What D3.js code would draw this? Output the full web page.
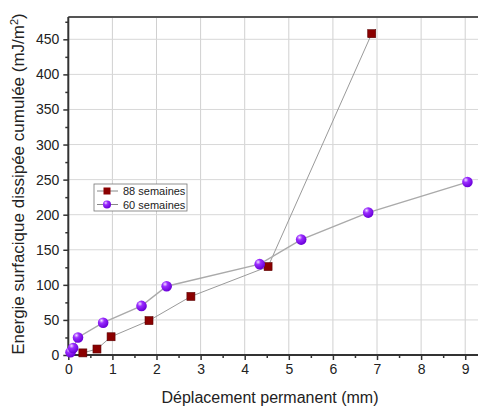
<!DOCTYPE html>
<html>
<head>
    <meta charset="utf-8">
    <title>Energie dissipée</title>
    <script src="https://d3js.org/d3.v7.min.js"></script>
    <style>
        body { margin: 0; background: #fff; }
        text { font-family: "Liberation Sans", Arial, sans-serif; fill: #222; }
    </style>
</head>
<body>
    <svg width="478" height="410"></svg>
    <script>
        // Data
        var seriesNames = ["88 semaines", "60 semaines"];
        var x88 = [0.33, 0.65, 0.97, 1.83, 2.78, 4.53, 6.88];
        var y88 = [3, 8.5, 26, 49, 83.5, 126, 458];
        var x60 = [0.05, 0.11, 0.22, 0.79, 1.66, 2.23, 4.34, 5.28, 6.8, 9.05];
        var y60 = [4, 10, 25, 46, 70, 98, 129.5, 164.5, 203, 246.5];
        var xTicks = [0, 1, 2, 3, 4, 5, 6, 7, 8, 9];
        var yTicks = [0, 50, 100, 150, 200, 250, 300, 350, 400, 450];

        var pLeft = 68.3, pRight = 478, pTop = 17, pBottom = 355;

        var x = d3.scaleLinear().domain([0, 9.29]).range([pLeft, pRight]);
        var y = d3.scaleLinear().domain([0, 481.8]).range([pBottom, pTop]);

        var svg = d3.select("svg");

        // sphere gradient for the purple markers
        var grad = svg.append("defs").append("radialGradient")
            .attr("id", "ball").attr("cx", "35%").attr("cy", "30%").attr("r", "70%");
        grad.append("stop").attr("offset", "0%").attr("stop-color", "#f2e0ff");
        grad.append("stop").attr("offset", "35%").attr("stop-color", "#9a2cff");
        grad.append("stop").attr("offset", "100%").attr("stop-color", "#6a00d8");

        // grid
        svg.append("g").selectAll("line").data(xTicks.slice(1)).enter().append("line")
            .attr("x1", function(d) { return x(d); }).attr("x2", function(d) { return x(d); })
            .attr("y1", pTop).attr("y2", pBottom)
            .attr("stroke", "#d0d0d0").attr("stroke-width", 1);
        svg.append("g").selectAll("line").data(yTicks.slice(1)).enter().append("line")
            .attr("x1", pLeft).attr("x2", pRight)
            .attr("y1", function(d) { return y(d); }).attr("y2", function(d) { return y(d); })
            .attr("stroke", "#d8d8d8").attr("stroke-width", 1);

        // top border
        svg.append("line").attr("x1", pLeft).attr("x2", pRight)
            .attr("y1", pTop).attr("y2", pTop)
            .attr("stroke", "#555").attr("stroke-width", 2);

        // axes
        var xAxis = svg.append("g")
            .attr("transform", "translate(0," + pBottom + ")")
            .call(d3.axisBottom(x).tickValues(xTicks).tickSize(5).tickPadding(4));
        svg.append("g")
            .attr("transform", "translate(0," + pBottom + ")")
            .call(d3.axisBottom(x).tickValues(d3.range(0.5, 9.3, 1)).tickSize(3).tickFormat(""))
            .select(".domain").remove();
        var yAxis = svg.append("g")
            .attr("transform", "translate(" + pLeft + ",0)")
            .call(d3.axisLeft(y).tickValues(yTicks).tickSize(5).tickPadding(4));
        svg.append("g")
            .attr("transform", "translate(" + pLeft + ",0)")
            .call(d3.axisLeft(y).tickValues(d3.range(25, 480, 50)).tickSize(3).tickFormat(""))
            .select(".domain").remove();

        svg.selectAll(".domain").attr("stroke", "#333").attr("stroke-width", 2);
        svg.selectAll(".tick line").attr("stroke", "#333").attr("stroke-width", 1.5);
        svg.selectAll(".tick text").style("font-size", "14px").attr("fill", "#222");
        xAxis.select(".domain").attr("d", "M" + pLeft + ",0H" + pRight);
        yAxis.select(".domain").attr("d", "M0," + pTop + "V" + pBottom);

        // lines
        var line = d3.line().x(function(d) { return x(d[0]); }).y(function(d) { return y(d[1]); });
        var d88 = d3.zip(x88, y88), d60 = d3.zip(x60, y60);
        svg.append("path").datum(d88).attr("d", line)
            .attr("fill", "none").attr("stroke", "#9a9a9a").attr("stroke-width", 1);
        svg.append("path").datum(d60).attr("d", line)
            .attr("fill", "none").attr("stroke", "#aaaaaa").attr("stroke-width", 1.4);

        // markers
        svg.append("g").selectAll("rect").data(d88).enter().append("rect")
            .attr("x", function(d) { return x(d[0]) - 4; })
            .attr("y", function(d) { return y(d[1]) - 4; })
            .attr("width", 8).attr("height", 8)
            .attr("fill", "#8b0000").attr("stroke", "#5a0000").attr("stroke-width", 0.6);
        svg.append("g").selectAll("circle").data(d60).enter().append("circle")
            .attr("cx", function(d) { return x(d[0]); })
            .attr("cy", function(d) { return y(d[1]); })
            .attr("r", 5.3).attr("fill", "url(#ball)");

        // legend
        var lg = svg.append("g");
        lg.append("rect").attr("x", 94).attr("y", 184).attr("width", 93).attr("height", 27)
            .attr("fill", "#fff").attr("stroke", "#777").attr("stroke-width", 0.8);
        seriesNames.forEach(function(name, i) {
            var ly = 191 + i * 13.5;
            lg.append("line").attr("x1", 97).attr("x2", 118).attr("y1", ly).attr("y2", ly)
                .attr("stroke", "#888").attr("stroke-width", 1);
            if (i === 0) {
                lg.append("rect").attr("x", 103.5).attr("y", ly - 3.5).attr("width", 7).attr("height", 7)
                    .attr("fill", "#8b0000");
            } else {
                lg.append("circle").attr("cx", 107).attr("cy", ly).attr("r", 4).attr("fill", "url(#ball)");
            }
            lg.append("text").attr("x", 123).attr("y", ly + 4)
                .style("font-size", "11px").text(name);
        });

        // titles
        svg.append("text").attr("x", 270).attr("y", 403).attr("text-anchor", "middle")
            .style("font-size", "16px").text("Déplacement permanent (mm)");
        var yt = svg.append("text")
            .attr("transform", "translate(24,184) rotate(-90)")
            .attr("text-anchor", "middle").style("font-size", "17px");
        yt.append("tspan").text("Energie surfacique dissipée cumulée (mJ/m");
        yt.append("tspan").attr("dy", -6).style("font-size", "11px").text("2");
        yt.append("tspan").attr("dy", 6).text(")");
    </script>
</body>
</html>
